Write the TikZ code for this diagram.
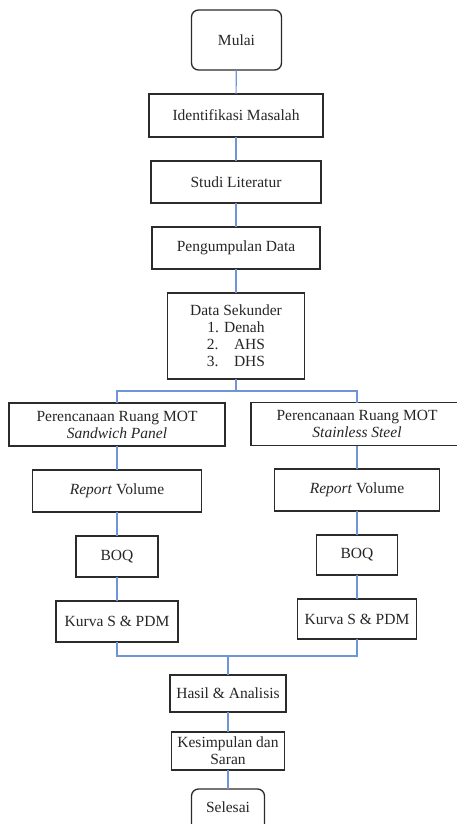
\documentclass[tikz,border=0pt]{standalone}
\usepackage{fontspec}
\setmainfont{Liberation Serif}
\definecolor{conncol}{HTML}{6F95D8}
\definecolor{boxcol}{HTML}{2B2B2B}
\definecolor{txtcol}{HTML}{262626}
\begin{document}
\begin{tikzpicture}[x=1pt,y=-1pt,
  box/.style={draw=boxcol,line width=1.3pt,fill=white,inner sep=0pt,outer sep=0pt,
    align=center,text=txtcol,font=\fontsize{15.5}{17}\selectfont},
  term/.style={box,rounded corners=7pt},
  conn/.style={draw=conncol,line width=1.1pt}]
\useasboundingbox (0,0) rectangle (457,824);
% nodes
\node[term,minimum width=90pt,minimum height=60pt] (mulai) at (236.5,40) {Mulai};
\node[box,minimum width=174pt,minimum height=43pt] (ident) at (236,115.5) {Identifikasi Masalah};
\node[box,minimum width=170pt,minimum height=42pt] (studi) at (236,182) {Studi Literatur};
\node[box,minimum width=168pt,minimum height=42pt] (kumpul) at (236,248) {Pengumpulan Data};
\node[box,minimum width=137pt,minimum height=86pt] (datasek) at (236,336)
  {Data Sekunder\\1. Denah\\2.\hspace{1em}AHS\\3.\hspace{1em}DHS};
\node[box,minimum width=216pt,minimum height=43pt] (perenL) at (117,424.5)
  {Perencanaan Ruang MOT\\\textit{Sandwich Panel}};
\node[box,minimum width=212pt,minimum height=43pt] (perenR) at (357,424)
  {Perencanaan Ruang MOT\\\textit{Stainless Steel}};
\node[box,minimum width=169pt,minimum height=42pt] (reportL) at (117,491) {\textit{Report} Volume};
\node[box,minimum width=165pt,minimum height=42pt] (reportR) at (357,490) {\textit{Report} Volume};
\node[box,minimum width=82pt,minimum height=41pt] (boqL) at (117,556.5) {BOQ};
\node[box,minimum width=81pt,minimum height=40pt] (boqR) at (357,555) {BOQ};
\node[box,minimum width=122pt,minimum height=41pt] (kurvaL) at (117,621.5) {Kurva S \& PDM};
\node[box,minimum width=119pt,minimum height=40pt] (kurvaR) at (357,619) {Kurva S \& PDM};
\node[box,minimum width=116pt,minimum height=37pt] (hasil) at (228,693.5) {Hasil \& Analisis};
\node[box,minimum width=113pt,minimum height=38pt] (simpul) at (228,751) {Kesimpulan dan\\Saran};
\node[term,minimum width=73pt,minimum height=44pt,text depth=8pt] (selesai) at (228,811) {Selesai};
% junction coordinates
\coordinate (br) at (236,391);
\coordinate (mg) at (228,656);
% connectors
\draw[conn] (mulai) -- (ident);
\draw[conn] (ident) -- (studi);
\draw[conn] (studi) -- (kumpul);
\draw[conn] (kumpul) -- (datasek);
\draw[conn] (datasek) -- (br);
\draw[conn] (perenL.north) |- (br);
\draw[conn] (perenR.north) |- (br);
\draw[conn] (perenL) -- (reportL);
\draw[conn] (reportL) -- (boqL);
\draw[conn] (boqL) -- (kurvaL);
\draw[conn] (perenR) -- (reportR);
\draw[conn] (reportR) -- (boqR);
\draw[conn] (boqR) -- (kurvaR);
\draw[conn] (kurvaL.south) |- (mg);
\draw[conn] (kurvaR.south) |- (mg);
\draw[conn] (mg) -- (hasil.north);
\draw[conn] (hasil) -- (simpul);
\draw[conn] (simpul) -- (selesai);
\end{tikzpicture}
\end{document}
